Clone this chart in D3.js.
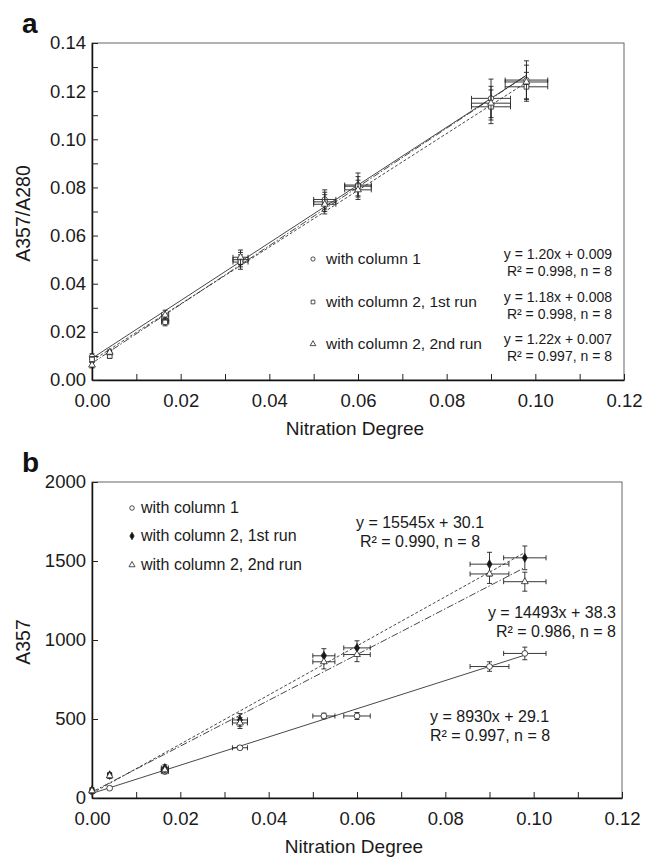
<!DOCTYPE html>
<html>

<head>
    <meta charset=utf-8 />
    <script src="https://cdn.jsdelivr.net/npm/d3@7"></script>
    <title>nitration degree</title>
    <style>
        html,
        body {
            margin: 0;
            background: white;
        }

        svg {
            display: block;
            font-family: "Liberation Sans", Arial, sans-serif;
        }

        .axis path.domain {
            stroke: #111;
            stroke-width: 1.5px;
        }

        .axis line {
            stroke: #222;
        }

        .axis text {
            font-size: 18.5px;
            fill: #1a1a1a;
        }
    </style>
</head>

<body>
    <svg width="646" height="860"></svg>
    <script>
        // shared x values (nitration degree) and their horizontal errors
        var nitration = [0, 0.004, 0.0165, 0.0335, 0.0525, 0.060, 0.090, 0.098];
        var nitrationErr = [0.0003, 0.0004, 0.0008, 0.0017, 0.0025, 0.003, 0.0044, 0.0048];

        var xTicks = [0, 0.02, 0.04, 0.06, 0.08, 0.10, 0.12];
        var xTickLabels = ['0.00', '0.02', '0.04', '0.06', '0.08', '0.10', '0.12'];

        // panel a: A357/A280
        var ratioCol1 = [0.0097, 0.011, 0.025, 0.050, 0.075, 0.081, 0.117, 0.1246];
        var ratioCol1Err = [0.0012, 0.001, 0.0015, 0.003, 0.004, 0.005, 0.008, 0.008];
        var ratioCol2Run1 = [0.0085, 0.010, 0.024, 0.049, 0.074, 0.0805, 0.1135, 0.1218];
        var ratioCol2Run1Err = [0.0012, 0.001, 0.0015, 0.003, 0.004, 0.004, 0.007, 0.006];
        var ratioCol2Run2 = [0.0062, 0.0115, 0.027, 0.051, 0.073, 0.079, 0.115, 0.1238];
        var ratioCol2Run2Err = [0.0012, 0.001, 0.002, 0.003, 0.004, 0.004, 0.007, 0.007];
        var ratioSlope = [1.20, 1.18, 1.22];
        var ratioIntercept = [0.009, 0.008, 0.007];
        var ratioTicks = [0, 0.02, 0.04, 0.06, 0.08, 0.10, 0.12, 0.14];
        var ratioTickLabels = ['0.00', '0.02', '0.04', '0.06', '0.08', '0.10', '0.12', '0.14'];
        var ratioEqs = [
            ['y = 1.20x + 0.009', 'R\u00b2 = 0.998, n = 8'],
            ['y = 1.18x + 0.008', 'R\u00b2 = 0.998, n = 8'],
            ['y = 1.22x + 0.007', 'R\u00b2 = 0.997, n = 8']
        ];

        // panel b: A357
        var a357Col1 = [40, 62, 168, 318, 519, 519, 832, 915];
        var a357Col1Err = [10, 8, 15, 12, 18, 22, 30, 40];
        var a357Col2Run1 = [50, 145, 190, 494, 900, 950, 1480, 1520];
        var a357Col2Run1Err = [15, 15, 20, 40, 45, 45, 75, 75];
        var a357Col2Run2 = [45, 140, 178, 475, 862, 908, 1418, 1369];
        var a357Col2Run2Err = [15, 15, 20, 35, 45, 45, 60, 60];
        var a357Slope = [8930, 15545, 14493];
        var a357Intercept = [29.1, 30.1, 38.3];
        var a357Ticks = [0, 500, 1000, 1500, 2000];
        var a357TickLabels = ['0', '500', '1000', '1500', '2000'];

        var seriesNames = ['with column 1', 'with column 2, 1st run', 'with column 2, 2nd run'];
        var dashes = [null, '3,2', '7,2,1.5,2'];

        var svg = d3.select('svg');

        function drawPanel(o) {
            var x = d3.scaleLinear().domain([0, 0.12]).range([o.left, o.right]);
            var y = d3.scaleLinear().domain(o.yDomain).range([o.bottom, o.top]);
            var g = svg.append('g');

            // frame (top / right in grey)
            g.append('rect')
                .attr('x', o.left).attr('y', o.top)
                .attr('width', o.right - o.left).attr('height', o.bottom - o.top)
                .attr('fill', 'none').attr('stroke', '#666').attr('stroke-width', 1);

            var xMinor = d3.range(0, 0.1201, 0.01);
            g.append('g').attr('class', 'axis')
                .attr('transform', 'translate(0,' + o.bottom + ')')
                .call(d3.axisBottom(x).tickValues(xMinor).tickSizeInner(-6).tickSizeOuter(0).tickPadding(14)
                    .tickFormat(function (d) {
                        var i = xTicks.findIndex(function (t) { return Math.abs(t - d) < 1e-6; });
                        return i < 0 ? '' : xTickLabels[i];
                    }));

            g.append('g').attr('class', 'axis')
                .attr('transform', 'translate(' + o.left + ',0)')
                .call(d3.axisLeft(y).tickValues(o.yMinor).tickSizeInner(-6).tickSizeOuter(0).tickPadding(6)
                    .tickFormat(function (d) {
                        var i = o.yTicks.findIndex(function (t) { return Math.abs(t - d) < 1e-6; });
                        return i < 0 ? '' : o.yTickLabels[i];
                    }));

            // fit lines
            o.slope.forEach(function (s, k) {
                var xs = [nitration[0], nitration[nitration.length - 1]];
                g.append('path')
                    .attr('d', d3.line()
                        .x(function (d) { return x(d); })
                        .y(function (d) { return y(s * d + o.intercept[k]); })(xs))
                    .attr('fill', 'none').attr('stroke', '#333').attr('stroke-width', 0.9)
                    .attr('stroke-dasharray', dashes[k]);
            });

            // error bars + markers
            o.series.forEach(function (ser, k) {
                var pts = nitration.map(function (d, i) {
                    return { x: d, y: ser.values[i], ex: nitrationErr[i], ey: ser.err[i] };
                });
                var eg = g.append('g').attr('stroke', '#222').attr('stroke-width', 0.9);
                pts.forEach(function (p) {
                    var cx = x(p.x), cy = y(p.y);
                    var y0 = y(p.y - p.ey), y1 = y(p.y + p.ey);
                    var x0 = x(p.x - p.ex), x1 = x(p.x + p.ex);
                    eg.append('line').attr('x1', cx).attr('x2', cx).attr('y1', y0).attr('y2', y1);
                    eg.append('line').attr('x1', cx - 2.5).attr('x2', cx + 2.5).attr('y1', y0).attr('y2', y0);
                    eg.append('line').attr('x1', cx - 2.5).attr('x2', cx + 2.5).attr('y1', y1).attr('y2', y1);
                    eg.append('line').attr('x1', x0).attr('x2', x1).attr('y1', cy).attr('y2', cy);
                    eg.append('line').attr('x1', x0).attr('x2', x0).attr('y1', cy - 2.5).attr('y2', cy + 2.5);
                    eg.append('line').attr('x1', x1).attr('x2', x1).attr('y1', cy - 2.5).attr('y2', cy + 2.5);
                });
                g.append('g').selectAll('path').data(pts).enter().append('path')
                    .attr('transform', function (p) { return 'translate(' + x(p.x) + ',' + y(p.y) + ')'; })
                    .attr('d', d3.symbol().type(o.symbols[k]).size(o.symSize[k]))
                    .attr('fill', o.fills[k]).attr('stroke', '#222').attr('stroke-width', 0.8);
            });

            // axis titles
            g.append('text')
                .attr('x', (o.left + o.right) / 2 - 3).attr('y', o.bottom + 55)
                .attr('text-anchor', 'middle').attr('font-size', 19).attr('fill', '#1a1a1a')
                .text('Nitration Degree');
            g.append('text')
                .attr('transform', 'translate(30,' + ((o.top + o.bottom) / 2 + 2) + ') rotate(-90)')
                .attr('text-anchor', 'middle').attr('font-size', 19.5).attr('fill', '#1a1a1a')
                .text(o.yTitle);
            g.append('text')
                .attr('x', 22).attr('y', o.top - 10)
                .attr('font-size', 28).attr('font-weight', 'bold').attr('fill', '#111')
                .text(o.letter);

            return { g: g, x: x, y: y };
        }

        // ---- panel a ----
        var pa = drawPanel({
            left: 92, right: 624, top: 43, bottom: 380,
            yDomain: [0, 0.14], yMinor: d3.range(0, 0.1401, 0.01),
            yTicks: ratioTicks, yTickLabels: ratioTickLabels,
            slope: ratioSlope, intercept: ratioIntercept,
            series: [
                { values: ratioCol1, err: ratioCol1Err },
                { values: ratioCol2Run1, err: ratioCol2Run1Err },
                { values: ratioCol2Run2, err: ratioCol2Run2Err }
            ],
            symbols: [d3.symbolCircle, d3.symbolSquare, d3.symbolTriangle],
            symSize: [22, 22, 20],
            fills: ['white', 'white', 'white'],
            yTitle: 'A357/A280', letter: 'a'
        });

        var legA = pa.g.append('g');
        var legAy = [264, 307, 349];
        seriesNames.forEach(function (name, k) {
            legA.append('path')
                .attr('transform', 'translate(313,' + (legAy[k] - 5) + ')')
                .attr('d', d3.symbol().type([d3.symbolCircle, d3.symbolSquare, d3.symbolTriangle][k]).size(14))
                .attr('fill', 'white').attr('stroke', '#222').attr('stroke-width', 0.8);
            legA.append('text').attr('x', 326).attr('y', legAy[k])
                .attr('font-size', 15.5).attr('fill', '#1a1a1a').text(name);
            legA.append('text').attr('x', 612).attr('y', legAy[k] - 5)
                .attr('text-anchor', 'end').attr('font-size', 14).attr('fill', '#1a1a1a').text(ratioEqs[k][0]);
            legA.append('text').attr('x', 612).attr('y', legAy[k] + 12)
                .attr('text-anchor', 'end').attr('font-size', 14).attr('fill', '#1a1a1a').text(ratioEqs[k][1]);
        });

        // ---- panel b ----
        var pb = drawPanel({
            left: 92, right: 622, top: 482, bottom: 798,
            yDomain: [0, 2000], yMinor: a357Ticks,
            yTicks: a357Ticks, yTickLabels: a357TickLabels,
            slope: a357Slope, intercept: a357Intercept,
            series: [
                { values: a357Col1, err: a357Col1Err },
                { values: a357Col2Run1, err: a357Col2Run1Err },
                { values: a357Col2Run2, err: a357Col2Run2Err }
            ],
            symbols: [d3.symbolCircle, d3.symbolDiamond, d3.symbolTriangle],
            symSize: [26, 22, 20],
            fills: ['white', '#111', 'white'],
            yTitle: 'A357', letter: 'b'
        });

        var legB = pb.g.append('g');
        var legBy = [513, 541, 570];
        seriesNames.forEach(function (name, k) {
            legB.append('path')
                .attr('transform', 'translate(132,' + (legBy[k] - 5) + ')')
                .attr('d', d3.symbol().type([d3.symbolCircle, d3.symbolDiamond, d3.symbolTriangle][k]).size(16))
                .attr('fill', ['white', '#111', 'white'][k]).attr('stroke', '#222').attr('stroke-width', 0.8);
            legB.append('text').attr('x', 141).attr('y', legBy[k])
                .attr('font-size', 16).attr('fill', '#1a1a1a').text(name);
        });

        var eqB = [
            { x: 420, y: 528, anchor: 'middle', lines: ['y = 15545x + 30.1', 'R\u00b2 = 0.990, n = 8'] },
            { x: 616, y: 618, anchor: 'end', lines: ['y = 14493x + 38.3', 'R\u00b2 = 0.986, n = 8'] },
            { x: 430, y: 722, anchor: 'start', lines: ['y = 8930x + 29.1', 'R\u00b2 = 0.997, n = 8'] }
        ];
        eqB.forEach(function (e) {
            e.lines.forEach(function (t, j) {
                pb.g.append('text').attr('x', e.x).attr('y', e.y + j * 18.5)
                    .attr('text-anchor', e.anchor).attr('font-size', 16).attr('fill', '#1a1a1a').text(t);
            });
        });
    </script>
</body>

</html>
